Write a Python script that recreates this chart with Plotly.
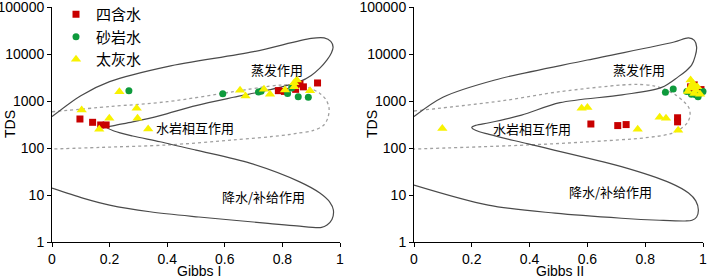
import math
import plotly.graph_objects as go

# ---------------- data ----------------
# Gibbs I panel (x = Na/(Na+Ca), y = TDS)
g1_sihan_x = [0.097, 0.141, 0.169, 0.188, 0.786, 0.807, 0.846, 0.861, 0.873, 0.922]
g1_sihan_y = [414, 352, 309, 309, 1660, 1600, 1770, 2300, 2000, 2420]
g1_shayan_x = [0.267, 0.593, 0.717, 0.726, 0.818, 0.832, 0.855, 0.89]
g1_shayan_y = [1660, 1430, 1550, 1620, 1450, 1900, 1230, 1200]
g1_taihui_x = [0.103, 0.164, 0.199, 0.234, 0.294, 0.297, 0.334, 0.653, 0.672, 0.736,
               0.757, 0.809, 0.841, 0.85, 0.841, 0.896]
g1_taihui_y = [645, 250, 430, 1580, 700, 430, 255, 1700, 1280, 1770,
               1400, 1715, 2450, 2800, 2000, 1650]

# Gibbs II panel (x = Cl/(Cl+HCO3), y = TDS)
g2_sihan_x = [0.612, 0.705, 0.734, 0.912, 0.912, 0.957, 0.965, 0.993, 0.97, 0.975]
g2_sihan_y = [324, 300, 315, 440, 360, 2000, 1600, 1750, 2200, 1500]
g2_shayan_x = [0.87, 0.897, 0.944, 0.983, 1.0, 0.99, 0.96, 0.975]
g2_shayan_y = [1530, 1800, 1600, 1230, 1600, 1460, 1400, 1350]
g2_taihui_x = [0.098, 0.58, 0.60, 0.774, 0.85, 0.872, 0.914, 0.957, 0.965, 0.955,
               0.976, 0.97, 0.948, 0.99, 0.962, 0.98]
g2_taihui_y = [260, 700, 730, 250, 450, 430, 240, 2800, 2400, 1900,
               1700, 1450, 1600, 1400, 2100, 2000]

# Gibbs boundary curves (outer solid and inner dotted envelopes)
g1_outer_x = [0, 0.1, 0.2, 0.4, 0.7, 0.9, 0.945, 0.968, 0.976, 0.97, 0.955, 0.93, 0.9, 0.86,
              0.75, 0.63, 0.5, 0.375, 0.28, 0.215, 0.19, 0.215, 0.28, 0.375, 0.5, 0.69,
              0.86, 0.93, 0.965, 0.977, 0.972, 0.955, 0.936, 0.85, 0.75, 0.51, 0.34, 0.2, 0.11, 0]
g1_outer_y = [465, 1300, 2580, 5400, 11200, 21500, 22000, 18500, 14000, 10500, 7500, 5000, 3500, 2580,
              1700, 1200, 800, 490, 360, 300, 275, 230, 180, 136, 90, 47,
              19, 11, 7, 4.8, 3.0, 2.3, 2.05, 2.2, 2.5, 3.4, 4.4, 6.1, 8.5, 14]
g1_inner_x = [0, 0.2, 0.4, 0.63, 0.75, 0.8, 0.85, 0.895, 0.93, 0.952, 0.962, 0.958, 0.942,
              0.905, 0.85, 0.8, 0.63, 0.4, 0.167, 0]
g1_inner_y = [590, 760, 966, 1580, 2050, 2190, 2150, 1880, 1450, 1050, 700, 440, 300,
              235, 205, 185, 148, 116, 103, 95]

g2_outer_x = [0, 0.1, 0.28, 0.6, 0.9, 0.95, 0.97, 0.978, 0.973, 0.961, 0.94, 0.915, 0.857,
              0.72, 0.505, 0.372, 0.26, 0.215, 0.2, 0.215, 0.26, 0.395, 0.718, 0.89, 0.95,
              0.975, 0.984, 0.978, 0.962, 0.938, 0.85, 0.718, 0.488, 0.257, 0]
g2_outer_y = [465, 1200, 2800, 7450, 18000, 22000, 19500, 14000, 9000, 5850, 4300, 3300, 1950,
              1350, 920, 500, 345, 305, 275, 235, 195, 122, 40, 17.7, 11,
              7.5, 4.8, 3.4, 2.9, 2.8, 2.9, 3.2, 4.1, 6.1, 16.3]
g2_inner_x = [0, 0.3, 0.505, 0.72, 0.776, 0.83, 0.87, 0.905, 0.935, 0.952, 0.955, 0.945,
              0.92, 0.886, 0.8, 0.6, 0.395, 0]
g2_inner_y = [612, 1000, 1580, 2190, 2250, 2100, 1750, 1350, 950, 700, 480, 340,
              250, 200, 165, 135, 116, 95]

series_names = ["四含水", "砂岩水", "太灰水"]
y_ticks = [1, 10, 100, 1000, 10000, 100000]
y_tick_labels = ["1", "10", "100", "1000", "10000", "100000"]
x_ticks = [0, 0.2, 0.4, 0.6, 0.8, 1]
x_tick_labels = ["0", "0.2", "0.4", "0.6", "0.8", "1"]

# ---------------- styles ----------------
RED = "#C80000"
GREEN = "#0E9A3C"
YELLOW = "#F8F200"
FONT = "Liberation Sans, Arial, Noto Sans CJK SC, sans-serif"
CJK = "Noto Sans CJK SC, Liberation Sans, sans-serif"

fig = go.Figure()

def curves(xa, ya, ox, oy, ix, iy):
    fig.add_trace(go.Scatter(x=ix, y=iy, mode="lines",
                             line=dict(color="#a0a0a0", width=1.3, dash="dot", shape="spline", smoothing=0.9),
                             xaxis=xa, yaxis=ya, showlegend=False, hoverinfo="skip"))
    fig.add_trace(go.Scatter(x=ox, y=oy, mode="lines",
                             line=dict(color="#4a4a4a", width=1.2, shape="spline", smoothing=0.9),
                             xaxis=xa, yaxis=ya, showlegend=False, hoverinfo="skip"))

curves("x", "y", g1_outer_x, g1_outer_y, g1_inner_x, g1_inner_y)
curves("x2", "y2", g2_outer_x, g2_outer_y, g2_inner_x, g2_inner_y)

styles = [("square", RED, 7), ("circle", GREEN, 7), ("triangle-up", YELLOW, 9)]
panel1 = [(g1_sihan_x, g1_sihan_y), (g1_shayan_x, g1_shayan_y), (g1_taihui_x, g1_taihui_y)]
panel2 = [(g2_sihan_x, g2_sihan_y), (g2_shayan_x, g2_shayan_y), (g2_taihui_x, g2_taihui_y)]
for i, name in enumerate(series_names):
    sym, col, sz = styles[i]
    fig.add_trace(go.Scatter(x=panel1[i][0], y=panel1[i][1], mode="markers", name=name,
                             marker=dict(symbol=sym, color=col, size=sz, line=dict(width=0)),
                             xaxis="x", yaxis="y", legendgroup=name, showlegend=True,
                             cliponaxis=False))
    fig.add_trace(go.Scatter(x=panel2[i][0], y=panel2[i][1], mode="markers", name=name,
                             marker=dict(symbol=sym, color=col, size=sz, line=dict(width=0)),
                             xaxis="x2", yaxis="y2", legendgroup=name, showlegend=False,
                             cliponaxis=False))

W, H = 708, 277
ML, MR, MT, MB = 52, 5, 7, 35
pw = W - ML - MR
ph = H - MT - MB
def px(p):
    return (p - ML) / pw
def py(p):
    return (H - MB - p) / ph

axis_common = dict(showline=True, linecolor="black", linewidth=1, ticks="outside", ticklen=4,
                   tickcolor="black", showgrid=False, zeroline=False, automargin=False,
                   ticklabeloverflow="allow",
                   tickfont=dict(family=FONT, size=14, color="black"))
xcommon = dict(axis_common, range=[0, 1], tickvals=x_ticks, ticktext=x_tick_labels)
ycommon = dict(axis_common, type="log", range=[0, 5], tickvals=y_ticks, ticktext=y_tick_labels)

fig.update_layout(
    width=W, height=H,
    margin=dict(l=ML, r=MR, t=MT, b=MB, autoexpand=False),
    paper_bgcolor="white", plot_bgcolor="white",
    font=dict(family=FONT, size=14, color="black"),
    xaxis=dict(xcommon, domain=[0, px(340)], anchor="y"),
    yaxis=dict(ycommon, domain=[0, 1], anchor="x"),
    xaxis2=dict(xcommon, domain=[px(414), 1.0], anchor="y2"),
    yaxis2=dict(ycommon, domain=[0, 1], anchor="x2"),
    showlegend=True,
    legend=dict(x=px(56), y=1 + 9 / ph, xanchor="left", yanchor="top", bgcolor="rgba(0,0,0,0)",
                font=dict(family=CJK, size=15), tracegroupgap=0, itemsizing="trace"),
)

ann = []
# axis titles
common_ann = dict(xref="paper", yref="paper", showarrow=False, xanchor="center", yanchor="middle",
                  font=dict(family=FONT, size=14))
ann.append(dict(common_ann, text="TDS", x=px(10), y=py(124), textangle=-90))
ann.append(dict(common_ann, text="TDS", x=px(372), y=py(124), textangle=-90))
ann.append(dict(common_ann, text="Gibbs I", x=px(199), y=py(270.5)))
ann.append(dict(common_ann, text="Gibbs II", x=px(560), y=py(270.5)))
# zone labels (x in data units, y in log10 units)
labels = [("蒸发作用", 0.78, 4570, "x", "y"), ("水岩相互作用", 0.497, 270, "x", "y"),
          ("降水/补给作用", 0.734, 9.2, "x", "y"),
          ("蒸发作用", 0.78, 4570, "x2", "y2"), ("水岩相互作用", 0.41, 260, "x2", "y2"),
          ("降水/补给作用", 0.68, 11.8, "x2", "y2")]
for t, lx, ly, xr, yr in labels:
    ann.append(dict(text=t, x=lx, y=math.log10(ly), xref=xr, yref=yr, showarrow=False,
                    xanchor="center", yanchor="middle",
                    font=dict(family=CJK, size=13, color="black")))
fig.update_layout(annotations=ann)

# remove the default 8px page margin so the figure sits at the window's top-left corner
fig.write_html("out.html", config={"displayModeBar": False},
               post_script="document.body.style.margin='0';document.body.style.overflow='hidden';")
